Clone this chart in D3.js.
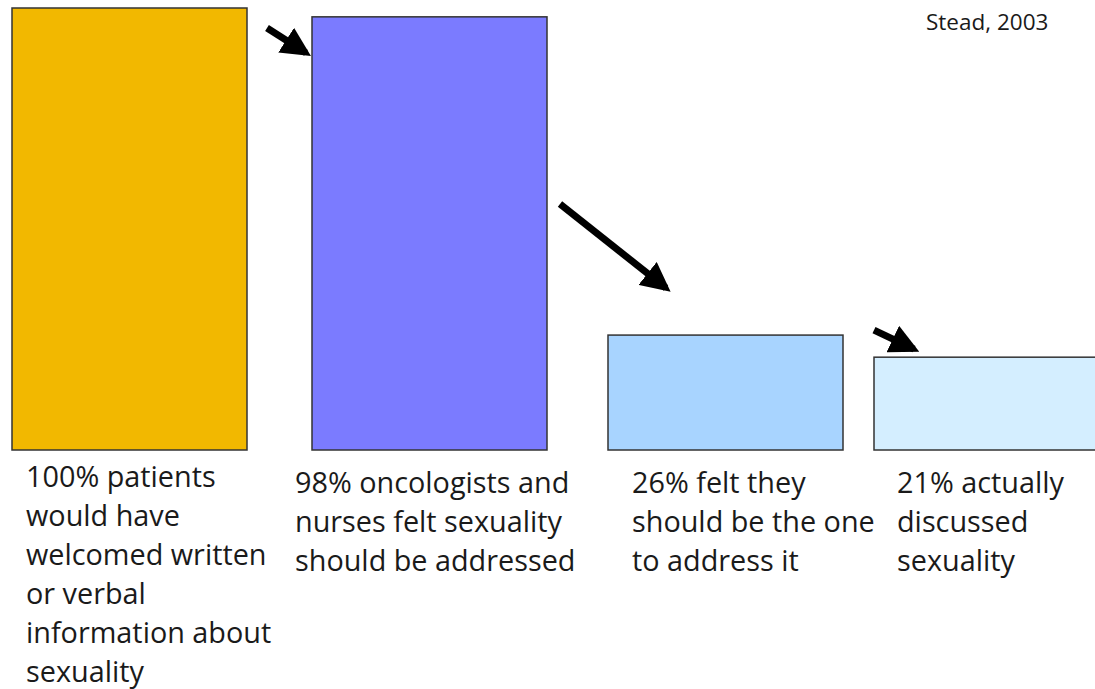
<!DOCTYPE html>
<html>
<head>
<meta charset="utf-8">
<script src="https://cdn.jsdelivr.net/npm/d3@7"></script>
<style>
  body { margin: 0; background: #fff; }
  svg { display: block; }
</style>
</head>
<body>
<svg id="chart"></svg>
<script>
// data
const categories = ["patients", "staffAddress", "staffSelf", "discussed"];
const values = [100, 98, 26, 21];
const labels = [
  ["100% patients", "would have", "welcomed written", "or verbal", "information about", "sexuality"],
  ["98% oncologists and", "nurses felt sexuality", "should be addressed"],
  ["26% felt they", "should be the one", "to address it"],
  ["21% actually", "discussed", "sexuality"]
];
const colors = ["#F2B800", "#7B7BFF", "#A8D4FF", "#D4EEFF"];
const source = "Stead, 2003";

const width = 1095, height = 689;
const svg = d3.select("#chart").attr("width", width).attr("height", height);

// x positions of the bars on the slide (not evenly spaced)
const x = d3.scaleOrdinal().domain(categories).range([12, 312, 608, 874]);
const labelShift = { patients: 14, staffAddress: -17, staffSelf: 24, discussed: 23 };
const labelTop = { patients: 487, staffAddress: 493, staffSelf: 493, discussed: 493 };
const barW = 235;
const y = d3.scaleLinear().domain([0, 100]).range([450, 8]);

const rows = categories.map((c, i) => ({ c, v: values[i], label: labels[i], color: colors[i] }));

svg.append("g")
  .selectAll("rect")
  .data(rows)
  .enter()
  .append("rect")
  .attr("x", d => x(d.c))
  .attr("y", d => y(d.v))
  .attr("width", barW)
  .attr("height", d => y(0) - y(d.v))
  .attr("fill", d => d.color)
  .attr("stroke", "#333")
  .attr("stroke-width", 1.5);

// labels under the bars
const lineH = 39;
svg.append("g")
  .selectAll("text")
  .data(rows)
  .enter()
  .append("text")
  .attr("y", d => labelTop[d.c])
  .attr("font-family", "'Open Sans', sans-serif")
  .attr("font-size", 28.8)
  .attr("fill", "#1a1a1a")
  .selectAll("tspan")
  .data(d => d.label.map((t, j) => ({ t, j, d })))
  .enter()
  .append("tspan")
  .attr("x", e => x(e.d.c) + labelShift[e.d.c])
  .attr("dy", e => e.j === 0 ? 0 : lineH)
  .text(e => e.t);

// arrows between bars
svg.append("defs").append("marker")
  .attr("id", "head")
  .attr("viewBox", "0 0 10 10")
  .attr("refX", 8).attr("refY", 5)
  .attr("markerWidth", 4.2).attr("markerHeight", 4.2)
  .attr("orient", "auto")
  .append("path")
  .attr("d", "M0,0 L10,5 L0,10 z")
  .attr("fill", "#000");

const arrows = [
  { x1: x(categories[0]) + barW + 20, y1: y(values[0]) + 20, x2: x(categories[1]) - 6, y2: y(values[1]) + 36 },
  { x1: x(categories[1]) + barW + 13, y1: 204, x2: x(categories[2]) + 58, y2: y(values[2]) - 47 },
  { x1: x(categories[2]) + barW + 31, y1: y(values[2]) - 5, x2: x(categories[3]) + 40, y2: y(values[3]) - 8 }
];

svg.append("g")
  .selectAll("line")
  .data(arrows)
  .enter()
  .append("line")
  .attr("x1", d => d.x1).attr("y1", d => d.y1)
  .attr("x2", d => d.x2).attr("y2", d => d.y2)
  .attr("stroke", "#000")
  .attr("stroke-width", 7)
  .attr("marker-end", "url(#head)");

svg.append("text")
  .attr("x", 926)
  .attr("y", 30)
  .attr("font-family", "'Open Sans', sans-serif")
  .attr("font-size", 22.5)
  .attr("fill", "#1a1a1a")
  .text(source);
</script>
</body>
</html>
